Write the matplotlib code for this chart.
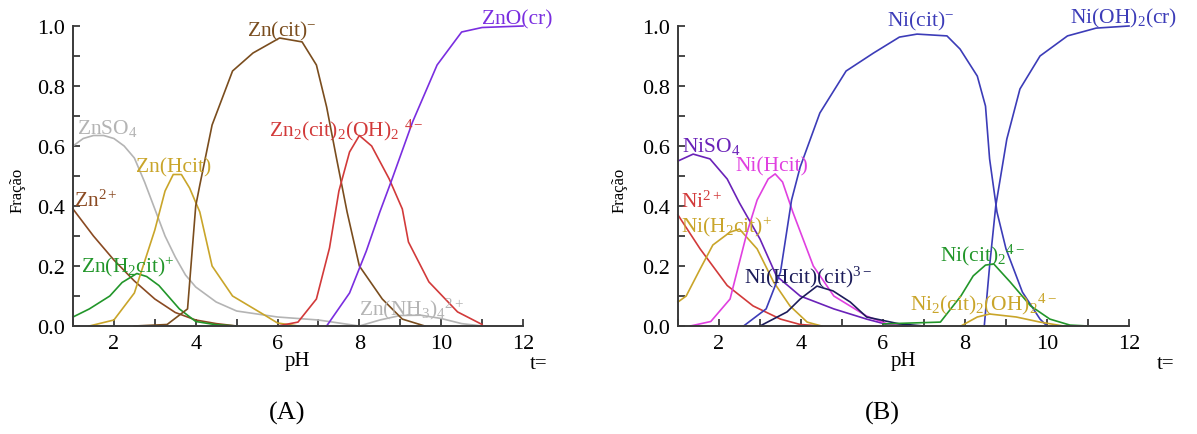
import numpy as np
import matplotlib
matplotlib.use("Agg")
import matplotlib.pyplot as plt
from matplotlib.ticker import MultipleLocator

plt.rcParams['font.family'] = 'Liberation Serif'
plt.rcParams['mathtext.fontset'] = 'custom'
plt.rcParams['mathtext.rm'] = 'Liberation Serif'
plt.rcParams['mathtext.it'] = 'Liberation Serif:italic'

# ---- (A) zinc species ----
zn_so4_ph = [1.0, 1.25, 1.5, 1.75, 2.0, 2.25, 2.5, 2.75, 3.0, 3.25, 3.5, 3.75, 4.0, 4.5, 5.0, 5.5, 6.0, 6.5, 7.0, 7.5, 8.0]
zn_so4 = [0.60, 0.625, 0.635, 0.635, 0.625, 0.60, 0.56, 0.48, 0.39, 0.30, 0.23, 0.17, 0.13, 0.08, 0.05, 0.04, 0.03, 0.025, 0.02, 0.01, 0.0]

zn2_ph = [1.0, 1.5, 2.0, 2.5, 3.0, 3.5, 4.0, 4.5, 5.0]
zn2 = [0.39, 0.30, 0.22, 0.15, 0.09, 0.045, 0.02, 0.008, 0.0]

znh2cit_ph = [1.0, 1.4, 1.9, 2.2, 2.56, 2.8, 3.1, 3.6, 4.0, 4.5, 5.0]
znh2cit = [0.03, 0.057, 0.10, 0.145, 0.175, 0.165, 0.135, 0.057, 0.015, 0.004, 0.0]

znhcit_ph = [1.4, 2.0, 2.5, 3.0, 3.25, 3.45, 3.65, 3.85, 4.1, 4.4, 4.9, 5.7, 6.0, 6.5]
znhcit = [0.0, 0.02, 0.11, 0.32, 0.45, 0.505, 0.505, 0.46, 0.38, 0.20, 0.10, 0.035, 0.01, 0.0]

zncit_ph = [2.5, 3.3, 3.8, 4.0, 4.1, 4.4, 4.9, 5.4, 6.05, 6.6, 6.95, 7.2, 7.44, 7.7, 8.0, 8.56, 9.05, 9.6]
zncit = [0.0, 0.005, 0.057, 0.40, 0.47, 0.67, 0.85, 0.91, 0.96, 0.947, 0.87, 0.73, 0.56, 0.38, 0.20, 0.09, 0.023, 0.0]

zn2cit2_ph = [6.0, 6.5, 6.95, 7.27, 7.5, 7.76, 8.0, 8.3, 8.73, 9.05, 9.2, 9.7, 10.4, 11.0]
zn2cit2 = [0.0, 0.013, 0.09, 0.26, 0.45, 0.58, 0.635, 0.60, 0.49, 0.39, 0.28, 0.147, 0.047, 0.005]

zno_ph = [7.2, 7.76, 8.17, 8.5, 8.8, 9.3, 9.9, 10.5, 11.0, 12.0]
zno = [0.0, 0.11, 0.25, 0.38, 0.49, 0.68, 0.87, 0.98, 0.995, 1.0]

znnh3_ph = [8.0, 8.5, 9.0, 9.5, 10.0, 10.5, 11.0]
znnh3 = [0.0, 0.02, 0.035, 0.036, 0.025, 0.008, 0.0]

# ---- (B) nickel species ----
niso4_ph = [1.0, 1.37, 1.78, 2.2, 2.5, 3.0, 3.4, 3.98, 4.8, 5.6, 6.1, 6.5]
niso4 = [0.55, 0.573, 0.557, 0.49, 0.41, 0.29, 0.167, 0.10, 0.057, 0.023, 0.005, 0.0]

ni2_ph = [1.0, 1.54, 2.2, 2.83, 3.5, 3.98, 4.5]
ni2 = [0.37, 0.257, 0.135, 0.067, 0.023, 0.005, 0.0]

nih2cit_ph = [1.0, 1.2, 1.54, 1.85, 2.27, 2.5, 2.93, 3.33, 3.73, 4.15, 4.5]
nih2cit = [0.08, 0.10, 0.19, 0.27, 0.313, 0.323, 0.257, 0.147, 0.067, 0.013, 0.0]

nihcit_ph = [1.3, 1.8, 2.27, 2.68, 2.93, 3.2, 3.37, 3.55, 3.8, 4.3, 4.8, 5.6, 6.1, 6.6]
nihcit = [0.0, 0.015, 0.09, 0.31, 0.42, 0.49, 0.507, 0.48, 0.38, 0.20, 0.10, 0.033, 0.007, 0.0]

nicit_ph = [2.6, 3.15, 3.5, 3.77, 3.98, 4.46, 5.1, 5.77, 6.4, 6.83, 7.56, 7.88, 8.3, 8.5, 8.6, 8.78, 9.0, 9.4, 9.83, 10.0]
nicit = [0.0, 0.057, 0.18, 0.42, 0.53, 0.71, 0.85, 0.91, 0.963, 0.973, 0.967, 0.923, 0.833, 0.733, 0.557, 0.38, 0.257, 0.113, 0.023, 0.0]

nioh2_ph = [8.47, 8.6, 8.75, 9.02, 9.34, 9.83, 10.5, 11.2, 12.0]
nioh2 = [0.0, 0.2, 0.40, 0.623, 0.79, 0.90, 0.967, 0.993, 1.0]

nihcitcit_ph = [3.0, 3.66, 3.98, 4.39, 4.78, 5.2, 5.6, 6.4, 7.0]
nihcitcit = [0.0, 0.047, 0.09, 0.133, 0.117, 0.08, 0.03, 0.007, 0.0]

nicit2_ph = [6.0, 7.4, 7.9, 8.2, 8.5, 8.7, 9.1, 9.6, 10.07, 10.56, 11.0]
nicit2 = [0.007, 0.013, 0.10, 0.167, 0.203, 0.207, 0.147, 0.067, 0.023, 0.003, 0.0]

ni2cit2_ph = [7.9, 8.3, 8.6, 9.25, 9.83, 10.4]
ni2cit2 = [0.0, 0.03, 0.04, 0.03, 0.013, 0.0]

GRAY = '#b4b4b4'
BROWN = '#8a4a22'
DBROWN = '#7a4d1e'
GREEN = '#22962a'
GOLD = '#c9a52a'
RED = '#d23a3a'
PURPLE = '#7a2ee0'
NPURPLE = '#6a22b8'
MAGENTA = '#e040e0'
BLUE = '#3c3cb8'
NAVY = '#1c1c5a'

fig = plt.figure(figsize=(11.97, 4.35), dpi=100)
axA = fig.add_axes([73/1197, 1-327/435, 450/1197, 300/435])
axB = fig.add_axes([678/1197, 1-327/435, 451/1197, 300/435])

for ax in (axA, axB):
    ax.set_xlim(1, 12)
    ax.set_ylim(0, 1.0)
    for s in ('top', 'right'):
        ax.spines[s].set_visible(False)
    for s in ('left', 'bottom'):
        ax.spines[s].set_color('#3a3a3a')
        ax.spines[s].set_linewidth(1.4)
    ax.xaxis.set_major_locator(MultipleLocator(2))
    ax.xaxis.set_minor_locator(MultipleLocator(1))
    ax.yaxis.set_major_locator(MultipleLocator(0.2))
    ax.yaxis.set_minor_locator(MultipleLocator(0.1))
    ax.tick_params(which='both', direction='in', length=5, width=1.3, color='#3a3a3a',
                   labelsize=16, pad=6)
    ax.set_xticks([2, 4, 6, 8, 10, 12])
    ax.set_yticks([0, 0.2, 0.4, 0.6, 0.8, 1.0])
    ax.set_yticklabels(['0.0', '0.2', '0.4', '0.6', '0.8', '1.0'])

lw = 1.2
kw = dict(lw=lw, clip_on=False)
axA.plot(zn_so4_ph, zn_so4, color=GRAY, **kw)
axA.plot(znnh3_ph, znnh3, color=GRAY, **kw)
axA.plot(zn2_ph, zn2, color=BROWN, **kw)
axA.plot(znh2cit_ph, znh2cit, color=GREEN, **kw)
axA.plot(znhcit_ph, znhcit, color=GOLD, **kw)
axA.plot(zncit_ph, zncit, color=DBROWN, **kw)
axA.plot(zn2cit2_ph, zn2cit2, color=RED, **kw)
axA.plot(zno_ph, zno, color=PURPLE, **kw)

axB.plot(niso4_ph, niso4, color=NPURPLE, **kw)
axB.plot(ni2_ph, ni2, color=RED, **kw)
axB.plot(nih2cit_ph, nih2cit, color=GOLD, **kw)
axB.plot(nihcit_ph, nihcit, color=MAGENTA, **kw)
axB.plot(nicit_ph, nicit, color=BLUE, **kw)
axB.plot(nioh2_ph, nioh2, color=BLUE, **kw)
axB.plot(nihcitcit_ph, nihcitcit, color=NAVY, **kw)
axB.plot(nicit2_ph, nicit2, color=GREEN, **kw)
axB.plot(ni2cit2_ph, ni2cit2, color=GOLD, **kw)

fs = 15.5
tk = dict(fontsize=fs, va='center', ha='left', clip_on=False)
axA.text(1.1, 0.66, r'ZnSO$_4$', color=GRAY, **tk)
axA.text(2.55, 0.53, 'Zn(Hcit)', color=GOLD, **tk)
axA.text(1.03, 0.42, r'Zn$^{2+}$', color=BROWN, **tk)
axA.text(1.2, 0.20, r'Zn(H$_2$cit)$^{+}$', color=GREEN, **tk)
axA.text(5.25, 0.985, r'Zn(cit)$^{-}$', color=DBROWN, **tk)
axA.text(5.8, 0.655, r'Zn$_2$(cit)$_2$(OH)$_2$ $^{4-}$', color=RED, **tk)
axA.text(11.0, 1.025, 'ZnO(cr)', color=PURPLE, **tk)
axA.text(8.0, 0.06, r'Zn(NH$_3$)$_4$$^{2+}$', color=GRAY, **tk)

axB.text(1.1, 0.60, r'NiSO$_4$', color=NPURPLE, **tk)
axB.text(2.4, 0.535, 'Ni(Hcit)', color=MAGENTA, **tk)
axB.text(1.08, 0.415, r'Ni$^{2+}$', color=RED, **tk)
axB.text(1.08, 0.335, r'Ni(H$_2$cit)$^{+}$', color=GOLD, **tk)
axB.text(2.6, 0.165, r'Ni(Hcit)(cit)$^{3-}$', color=NAVY, **tk)
axB.text(6.1, 1.02, r'Ni(cit)$^{-}$', color=BLUE, **tk)
axB.text(10.55, 1.03, r'Ni(OH)$_2$(cr)', color=BLUE, **tk)
axB.text(7.4, 0.24, r'Ni(cit)$_2$$^{4-}$', color=GREEN, **tk)
axB.text(6.65, 0.075, r'Ni$_2$(cit)$_2$(OH)$_2$$^{4-}$', color=GOLD, **tk)

for x0, xp, xt, lab, xl in ((18, 297, 530, '(A)', 287), (620, 903, 1157, '(B)', 882)):
    fig.text(x0/1197, 1-190/435, 'Fração', rotation=90, fontsize=12, ha='center', va='center')
    fig.text(xp/1197, 1-362/435, 'pH', fontsize=15, ha='center', va='center')
    fig.text(xt/1197, 1-365/435, 't=', fontsize=15, ha='left', va='center')
    fig.text(xl/1197, 1-413/435, lab, fontsize=19, ha='center', va='center')

fig.savefig('out.png', dpi=100)
